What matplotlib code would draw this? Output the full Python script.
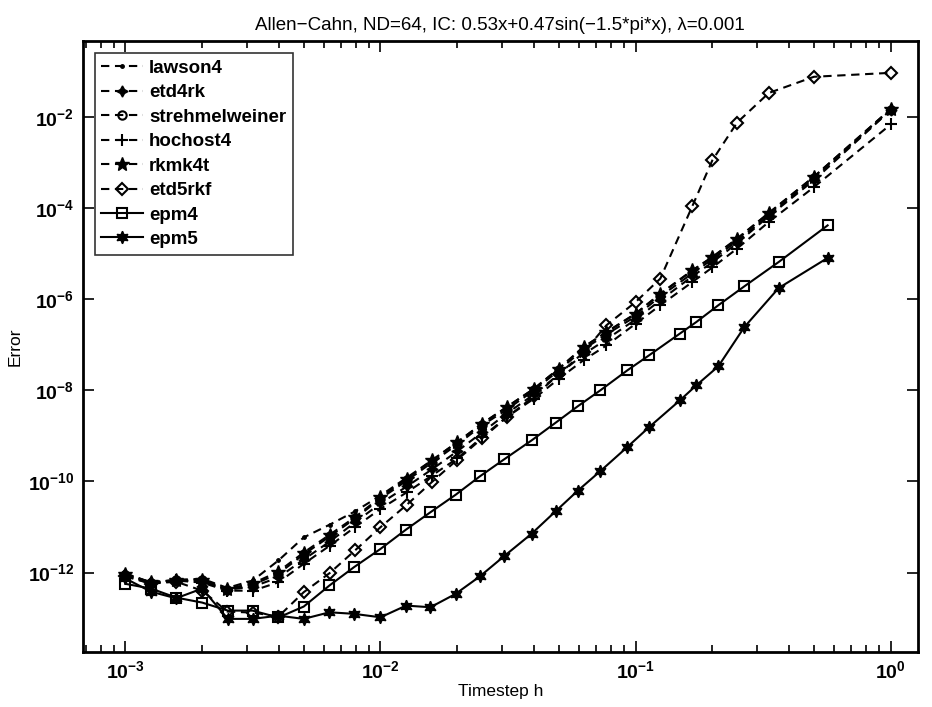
import numpy as np
import matplotlib
matplotlib.use('Agg')
import matplotlib.pyplot as plt
from matplotlib.ticker import FuncFormatter, LogLocator, NullLocator

plt.rcParams['font.family'] = ['Liberation Sans', 'DejaVu Sans']
plt.rcParams['mathtext.fontset'] = 'custom'
plt.rcParams['mathtext.rm'] = 'Liberation Sans'
plt.rcParams['mathtext.bf'] = 'Liberation Sans:bold'

# timesteps h = 1/N for the exponential integrators
h = [0.001, 0.00126, 0.00158, 0.002, 0.00251, 0.00316, 0.00398, 0.005, 0.00633,
     0.00794, 0.01, 0.0127, 0.0159, 0.02, 0.025, 0.03125, 0.04, 0.05, 0.0625,
     0.0769, 0.1, 0.125, 0.167, 0.2, 0.25, 0.333, 0.5, 1.0]

# timesteps used by the epm runs
h_epm = [0.001, 0.00126, 0.00158, 0.002, 0.00252, 0.00315, 0.00398, 0.005, 0.00631,
         0.00787, 0.01, 0.0126, 0.0157, 0.0197, 0.0245, 0.0305, 0.0391, 0.0486,
         0.0594, 0.0727, 0.0928, 0.113, 0.149, 0.173, 0.211, 0.267, 0.364, 0.566]

err_lawson4 = [9.5e-13, 6.0e-13, 6.9e-13, 7.3e-13, 4.6e-13, 6.7e-13, 1.84e-12, 5.9e-12,
               1.13e-11, 2.2e-11, 4.9e-11, 1.22e-10, 2.9e-10, 7.3e-10, 1.85e-9, 4.3e-9,
               1.09e-8, 3.0e-8, 8.9e-8, 1.9e-7, 4.8e-7, 1.3e-6, 4.3e-6, 8.4e-6, 2.1e-5,
               7.8e-5, 4.9e-4, 1.5e-2]
err_etd4rk = [9.0e-13, 6.0e-13, 6.7e-13, 6.3e-13, 4.2e-13, 4.9e-13, 7.8e-13, 1.93e-12,
              4.8e-12, 1.26e-11, 3.3e-11, 7.8e-11, 1.84e-10, 4.6e-10, 1.19e-9, 3.1e-9,
              8.2e-9, 2.25e-8, 6.2e-8, 1.32e-7, 3.6e-7, 9.5e-7, 3.2e-6, 6.5e-6, 1.7e-5,
              6.7e-5, 4.1e-4, 1.43e-2]
err_strehmelweiner = [9.0e-13, 6.0e-13, 6.7e-13, 6.7e-13, 4.2e-13, 5.4e-13, 9.5e-13, 2.5e-12,
                      6.2e-12, 1.54e-11, 4.2e-11, 1.05e-10, 2.6e-10, 6.5e-10, 1.7e-9, 3.8e-9,
                      1.0e-8, 2.75e-8, 8.0e-8, 1.7e-7, 4.2e-7, 1.16e-6, 3.7e-6, 7.6e-6, 1.9e-5,
                      7.0e-5, 4.6e-4, 1.43e-2]
err_hochost4 = [8.6e-13, 5.7e-13, 6.7e-13, 6.0e-13, 4.0e-13, 4.0e-13, 6.1e-13, 1.55e-12,
                3.9e-12, 9.9e-12, 2.5e-11, 5.8e-11, 1.35e-10, 3.2e-10, 9.4e-10, 2.6e-9,
                6.6e-9, 1.8e-8, 4.6e-8, 9.7e-8, 2.9e-7, 7.4e-7, 2.4e-6, 5.0e-6, 1.3e-5,
                5.0e-5, 2.9e-4, 6.9e-3]
err_rkmk4t = [9.5e-13, 6.1e-13, 6.9e-13, 6.9e-13, 4.4e-13, 5.8e-13, 1.05e-12, 2.75e-12,
              6.8e-12, 1.64e-11, 4.5e-11, 1.15e-10, 2.9e-10, 7.3e-10, 1.85e-9, 4.3e-9,
              1.09e-8, 3.0e-8, 8.95e-8, 1.91e-7, 4.85e-7, 1.33e-6, 4.34e-6, 8.5e-6, 2.16e-5,
              7.9e-5, 4.9e-4, 1.5e-2]
err_etd5rkf = [8.2e-13, 5.7e-13, 6.3e-13, 4.0e-13, 1.39e-13, 1.32e-13, 1.08e-13, 3.7e-13,
               9.8e-13, 3.05e-12, 9.9e-12, 3.1e-11, 9.7e-11, 3.0e-10, 8.8e-10, 2.55e-9,
               7.4e-9, 2.25e-8, 6.8e-8, 2.7e-7, 8.7e-7, 2.85e-6, 1.12e-4, 1.13e-3, 7.6e-3,
               3.4e-2, 7.7e-2, 9.4e-2]
err_epm4 = [5.65e-13, 4.45e-13, 2.82e-13, 2.19e-13, 1.46e-13, 1.46e-13, 1.03e-13, 1.79e-13,
            5.2e-13, 1.31e-12, 3.3e-12, 8.8e-12, 2.11e-11, 5.1e-11, 1.29e-10, 3.05e-10,
            7.96e-10, 1.95e-9, 4.5e-9, 1.0e-8, 2.75e-8, 5.9e-8, 1.76e-7, 3.17e-7, 7.4e-7,
            1.93e-6, 6.6e-6, 4.2e-5]
err_epm5 = [7.4e-13, 3.8e-13, 2.72e-13, 4.45e-13, 9.6e-14, 9.6e-14, 1.13e-13, 9.6e-14,
            1.34e-13, 1.24e-13, 1.04e-13, 1.88e-13, 1.73e-13, 3.4e-13, 8.2e-13, 2.28e-12,
            7.1e-12, 2.22e-11, 6.3e-11, 1.68e-10, 5.7e-10, 1.56e-9, 6.0e-9, 1.29e-8,
            3.37e-8, 2.46e-7, 1.77e-6, 8.1e-6]

dash = (0, (4, 2.7))
lw = 1.5

fig = plt.figure(figsize=(9.32, 7.07), dpi=100)
ax = fig.add_axes([0.0887, 0.0778, 0.8963, 0.8642])

ax.loglog(h, err_lawson4, color='k', ls=dash, lw=lw, marker='.', ms=5, label='lawson4')
ax.loglog(h, err_etd4rk, color='k', ls=dash, lw=lw, marker=(4, 1, 0), ms=8, label='etd4rk')
ax.loglog(h, err_strehmelweiner, color='k', ls=dash, lw=lw, marker='o', ms=6, mfc='none',
          mew=1.5, label='strehmelweiner')
ax.loglog(h, err_hochost4, color='k', ls=dash, lw=lw, marker='+', ms=8, mew=1.5, label='hochost4')
ax.loglog(h, err_rkmk4t, color='k', ls=dash, lw=lw, marker='*', ms=10, label='rkmk4t')
ax.loglog(h, err_etd5rkf, color='k', ls=dash, lw=lw, marker='D', ms=6, mfc='none',
          mew=1.5, label='etd5rkf')
ax.loglog(h_epm, err_epm4, color='k', ls='-', lw=lw, marker='s', ms=7, mfc='none',
          mew=1.5, label='epm4')
ax.loglog(h_epm, err_epm5, color='k', ls='-', lw=lw, marker=(6, 1, 0), ms=9, label='epm5')

ax.set_xlim(6.8e-4, 1.28)
ax.set_ylim(1.8e-14, 0.47)

ax.set_xticks([1e-3, 1e-2, 1e-1, 1e0])
ax.xaxis.set_minor_locator(LogLocator(base=10, subs=np.arange(2, 10)))
ax.set_yticks([1e-12, 1e-10, 1e-8, 1e-6, 1e-4, 1e-2])
ax.yaxis.set_minor_locator(NullLocator())
fmt = FuncFormatter(lambda v, p: r'$\mathbf{10^{%d}}$' % int(round(np.log10(v))))
ax.xaxis.set_major_formatter(fmt)
ax.yaxis.set_major_formatter(fmt)

ax.tick_params(which='both', direction='in', top=True, right=True, width=1.2)
ax.tick_params(which='major', length=8, labelsize=14, pad=6)
ax.tick_params(which='minor', length=5)
for sp in ax.spines.values():
    sp.set_linewidth(2)

ax.set_xlabel('Timestep h', fontsize=12.5, labelpad=1)
ax.set_ylabel('Error', fontsize=12.5, labelpad=4)
ax.set_title('Allen\u2212Cahn, ND=64, IC: 0.53x+0.47sin(\u22121.5*pi*x), \u03bb=0.001',
             fontsize=13.5, pad=8)

leg = ax.legend(loc='upper left', prop={'weight': 'bold', 'size': 13.5}, frameon=True,
                fancybox=False, edgecolor='k', handlelength=2.2, labelspacing=0.39,
                borderaxespad=0.65, handletextpad=0.35, borderpad=0.35)
leg.get_frame().set_linewidth(1.2)

plt.savefig('out.png', dpi=100)
